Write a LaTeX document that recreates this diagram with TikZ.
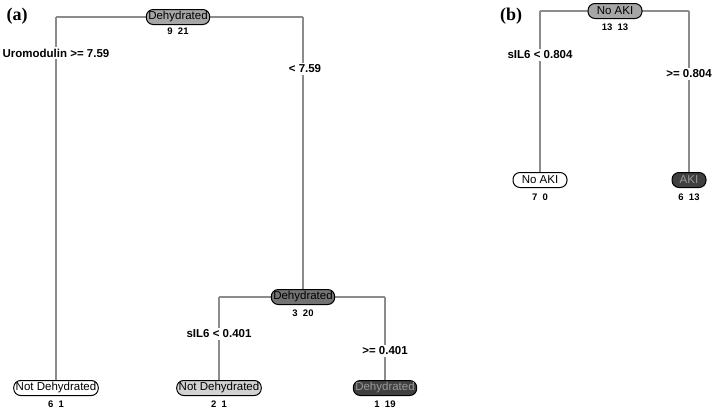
\documentclass[tikz,border=0pt]{standalone}
\usepackage{fontspec}
\setmainfont{Liberation Sans}
\newfontfamily\serifb{Liberation Serif}
\begin{document}
\begin{tikzpicture}[x=1pt,y=-1pt,
  nd/.style={draw=black,line width=1pt,rounded corners=7pt,minimum height=15pt,inner sep=2pt,font=\fontsize{11.5}{12}\selectfont},
  num/.style={font=\bfseries\fontsize{9.5}{10}\selectfont,inner sep=1pt},
  lab/.style={font=\bfseries\fontsize{11.5}{12}\selectfont,fill=white,inner sep=1.5pt},
  ln/.style={draw=gray!90,line width=1.4pt},
  pl/.style={font=\serifb\bfseries\fontsize{18}{19}\selectfont}]
\useasboundingbox (0,0) rectangle (720,410);
\node[pl] (pa) at (17,16) {(a)};
\node[pl] (pb) at (511,16) {(b)};
% tree a
\coordinate (aL) at (56,17); \coordinate (aR) at (303,17);
\coordinate (bL) at (219,297); \coordinate (bR) at (385,297);
\draw[ln] (aL) -- (aR);
\draw[ln] (bL) -- (bR);
\node[nd,fill=gray!70] (r) at (178,17) {Dehydrated};
\node[num] (rn) at (178,31) {9\ \ 21};
\node[nd,fill=white] (l1) at (56,388) {Not Dehydrated};
\node[num] (l1n) at (56,404) {6\ \ 1};
\node[nd,fill=black!55] (m) at (303,297) {Dehydrated};
\node[num] (mn) at (303,313) {3\ \ 20};
\node[nd,fill=gray!35] (l2) at (219,388) {Not Dehydrated};
\node[num] (l2n) at (219,404) {2\ \ 1};
\node[nd,fill=black!75,text=gray!80] (l3) at (385,388) {Dehydrated};
\node[num] (l3n) at (385,404) {1\ \ 19};
\draw[ln] (aL) -- (l1);
\draw[ln] (aR) -- (m);
\draw[ln] (bL) -- (l2);
\draw[ln] (bR) -- (l3);
\node[lab] (t1) at (56,53) {Uromodulin >= 7.59};
\node[lab] (t2) at (305,69) {< 7.59};
\node[lab] (t3) at (219,334) {sIL6 < 0.401};
\node[lab] (t4) at (385,351) {>= 0.401};
% tree b
\coordinate (cL) at (540,11); \coordinate (cR) at (689,11);
\draw[ln] (cL) -- (cR);
\node[nd,fill=gray!70,minimum width=54pt] (s) at (615,11) {No AKI};
\node[num] (sn) at (615,27) {13\ \ 13};
\node[nd,fill=white,minimum width=54pt] (s1) at (540,180) {No AKI};
\node[num] (s1n) at (540,197) {7\ \ 0};
\node[nd,fill=black!75,text=gray!80,minimum width=34pt] (s2) at (689,180) {AKI};
\node[num] (s2n) at (689,197) {6\ \ 13};
\draw[ln] (cL) -- (s1);
\draw[ln] (cR) -- (s2);
\node[lab] (t5) at (540,55) {sIL6 < 0.804};
\node[lab] (t6) at (689,74) {>= 0.804};
\end{tikzpicture}
\end{document}
